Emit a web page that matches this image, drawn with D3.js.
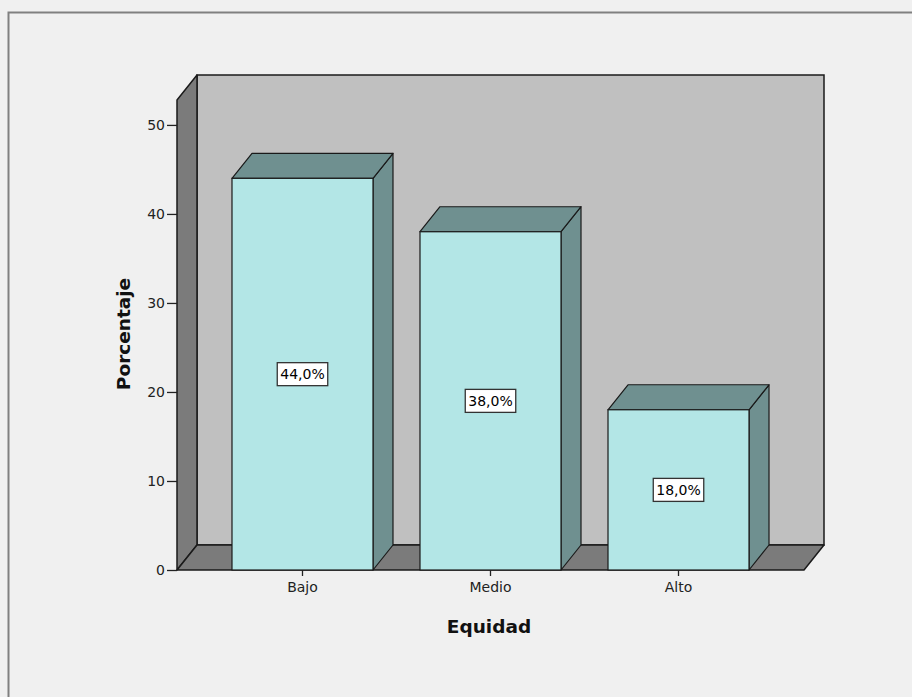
<!DOCTYPE html>
<html>
<head>
<meta charset="utf-8">
<script src="https://cdn.jsdelivr.net/npm/d3@7"></script>
<style>
  html, body { margin: 0; padding: 0; background: #f0f0f0; }
  svg { display: block; }
</style>
</head>
<body>
<script>
const categories = ["Bajo", "Medio", "Alto"];
const values = [44.0, 38.0, 18.0];
const valueLabels = ["44,0%", "38,0%", "18,0%"];
const yTicks = [0, 10, 20, 30, 40, 50];
const xTitle = "Equidad";
const yTitle = "Porcentaje";

const W = 912, H = 697;
const FONT = "DejaVu Sans, Verdana, sans-serif";
const svg = d3.select("body").append("svg").attr("width", W).attr("height", H);

svg.append("rect").attr("x", 0).attr("y", 0).attr("width", W).attr("height", H).attr("fill", "#f0f0f0");
svg.append("rect").attr("x", 8.5).attr("y", 12.5).attr("width", 940).attr("height", 720)
  .attr("fill", "#f0f0f0").attr("stroke", "#808080").attr("stroke-width", 2);

const DX = 20, DY = 25;
const x0 = 177, x1 = 804;
const y = d3.scaleLinear().domain([0, 52.8]).range([570, 100]);
const x = d3.scaleBand().domain(categories).range([x0, x1]).paddingInner(0.25).paddingOuter(0.2925);

const yBase = y(0), yTop = y(52.8);
const stroke = "#1a1a1a";

// back wall
svg.append("rect").attr("x", x0 + DX).attr("y", yTop - DY)
  .attr("width", x1 - x0).attr("height", yBase - yTop)
  .attr("fill", "#c0c0c0").attr("stroke", stroke).attr("stroke-width", 1.5);
// side wall
svg.append("polygon").attr("points", [[x0, yTop], [x0 + DX, yTop - DY], [x0 + DX, yBase - DY], [x0, yBase]].join(" "))
  .attr("fill", "#7b7b7b").attr("stroke", stroke).attr("stroke-width", 1.5).attr("stroke-linejoin", "round");
// floor
svg.append("polygon").attr("points", [[x0, yBase], [x0 + DX, yBase - DY], [x1 + DX, yBase - DY], [x1, yBase]].join(" "))
  .attr("fill", "#7b7b7b").attr("stroke", stroke).attr("stroke-width", 1.5).attr("stroke-linejoin", "round");

// bars
const bars = svg.append("g");
categories.forEach((c, i) => {
  const bx = x(c), bw = x.bandwidth(), by = y(values[i]);
  bars.append("polygon").attr("points", [[bx + bw, by], [bx + bw + DX, by - DY], [bx + bw + DX, yBase - DY], [bx + bw, yBase]].join(" "))
    .attr("fill", "#6f9090").attr("stroke", stroke).attr("stroke-width", 1.2).attr("stroke-linejoin", "round");
  bars.append("polygon").attr("points", [[bx, by], [bx + DX, by - DY], [bx + bw + DX, by - DY], [bx + bw, by]].join(" "))
    .attr("fill", "#6f9090").attr("stroke", stroke).attr("stroke-width", 1.2).attr("stroke-linejoin", "round");
  bars.append("rect").attr("x", bx).attr("y", by).attr("width", bw).attr("height", yBase - by)
    .attr("fill", "#b3e6e6").attr("stroke", stroke).attr("stroke-width", 1.2);
  // label box
  const cx = bx + bw / 2, cy = y(values[i] / 2);
  const t = bars.append("text").attr("x", cx).attr("y", cy + 5).attr("text-anchor", "middle")
    .attr("font-family", FONT).attr("font-size", 14).attr("fill", "#000")
    .text(valueLabels[i]);
  const bb = t.node().getBBox();
  bars.insert("rect", () => t.node()).attr("x", cx - bb.width / 2 - 3).attr("y", cy - 11.5)
    .attr("width", bb.width + 6).attr("height", 23)
    .attr("fill", "#fff").attr("stroke", "#333").attr("stroke-width", 1.3);
});

// y axis ticks
const yAxis = d3.axisLeft(y).tickValues(yTicks).tickSize(10).tickPadding(2).tickFormat(d3.format("d"));
const gy = svg.append("g").attr("transform", `translate(${x0},0)`).call(yAxis);
gy.select(".domain").remove();
gy.selectAll("line").attr("stroke", "#222").attr("stroke-width", 1.3);
gy.selectAll("text").attr("font-family", FONT).attr("font-size", 14).attr("fill", "#222");

// x axis ticks
const xAxis = d3.axisBottom(x).tickSize(6).tickPadding(6);
const gx = svg.append("g").attr("transform", `translate(0,${yBase})`).call(xAxis);
gx.select(".domain").remove();
gx.selectAll("line").attr("stroke", "#222").attr("stroke-width", 1.3);
gx.selectAll("text").attr("font-family", FONT).attr("font-size", 14).attr("fill", "#222");

// titles
svg.append("text").attr("x", 489).attr("y", 633).attr("text-anchor", "middle")
  .attr("font-family", FONT).attr("font-weight", "bold").attr("font-size", 18.5).attr("fill", "#111")
  .text(xTitle);
svg.append("text").attr("transform", "translate(130,334) rotate(-90)").attr("text-anchor", "middle")
  .attr("font-family", FONT).attr("font-weight", "bold").attr("font-size", 18.5).attr("fill", "#111")
  .text(yTitle);
</script>
</body>
</html>
